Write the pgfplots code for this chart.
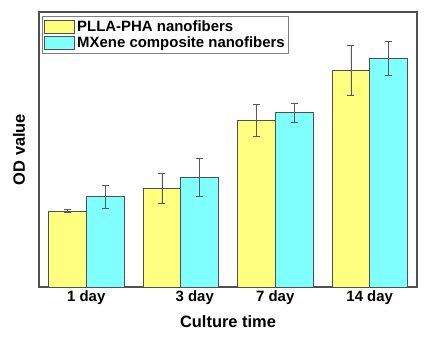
\documentclass[border=0pt]{standalone}
\usepackage{pgfplots}
\pgfplotsset{compat=1.18}
\usepackage{fontspec}
\setmainfont{Liberation Sans}
\definecolor{barY}{HTML}{FFFF80}
\definecolor{barC}{HTML}{80FFFF}
\definecolor{frame}{HTML}{505050}
\pgfplotsset{myerr/.style={
  error bars/y dir=both, error bars/y explicit,
  error bars/error bar style={gray!70!black, line width=0.7bp},
  error bars/error mark options={rotate=90, mark size=3.5bp, gray!70!black, line width=0.7bp}}}
\begin{document}
\begin{tikzpicture}
\useasboundingbox (-39bp,-50bp) rectangle (389bp,287bp);
\begin{axis}[
  scale only axis, width=378bp, height=275bp,
  at={(0,0)}, anchor=south west,
  ymin=0, ymax=275, xmin=-0.5, xmax=3.5,
  ybar=0pt, bar width=0.4,
  xtick={0,1,2,3},
  xticklabels={1 day, \hspace*{28bp}3 day, 7 day, 14 day},
  ytick=\empty,
  major tick length=0pt,
  axis line style={frame, line width=1.2bp},
  xticklabel style={font=\bfseries\fontsize{15}{18}\selectfont, anchor=center, yshift=-11bp},
  xlabel={Culture time}, ylabel={OD value},
  xlabel style={font=\bfseries\fontsize{16.5}{19}\selectfont, at={(axis description cs:0.5,-0.127)}, anchor=center},
  ylabel style={font=\bfseries\fontsize{16.5}{19}\selectfont, at={(axis description cs:-0.053,0.5)}, anchor=center},
  legend style={at={(axis description cs:0.008,0.985)}, anchor=north west, draw=gray, line width=0.8bp,
    font=\bfseries\fontsize{15}{16}\selectfont, inner sep=2bp, row sep=0bp, cells={anchor=west}},
  legend image code/.code={\draw[#1,draw=frame,line width=0.8bp] (0bp,-6.5bp) rectangle (30bp,6.5bp);},
]
\addplot[fill=barY, draw=frame, line width=0.9bp, myerr] table[x=x, y=y, y error=e] {
x y e
0 75.7 1.5
1 98.7 14.7
2 166.7 16.3
3 216.7 25
};
\addplot[fill=barC, draw=frame, line width=0.9bp, myerr] table[x=x, y=y, y error=e] {
x y e
0 90.3 11.2
1 109.7 19
2 174.3 9.5
3 228.7 17.3
};
\legend{PLLA-PHA nanofibers, MXene composite nanofibers}
\end{axis}
\end{tikzpicture}
\end{document}
